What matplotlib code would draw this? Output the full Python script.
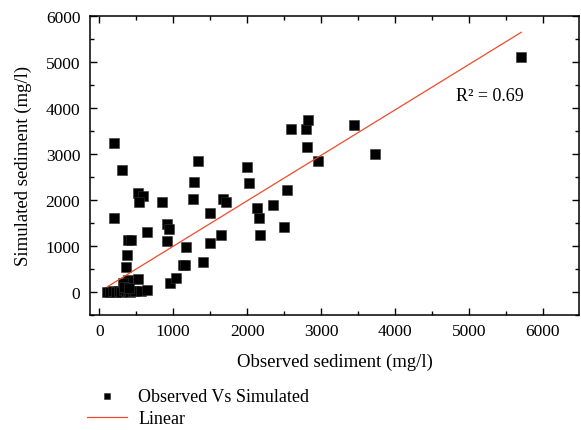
import matplotlib.pyplot as plt
from matplotlib.ticker import MultipleLocator

# Datos (mg/l)
observed = [200, 308, 203, 519, 586, 536, 843, 640, 392, 428, 370, 356, 527, 392, 324,
            110, 150, 190, 230, 265, 300, 330, 360, 390, 420, 450, 480, 560, 650, 340, 400,
            915, 946, 919, 955, 1032, 1127, 1158, 1167, 1270, 1284, 1329, 1397, 1491, 1491,
            1645, 1672, 1712, 1992, 2019, 2136, 2158, 2172, 2351, 2505, 2541, 2595, 2793,
            2820, 2816, 2965, 3451, 3726, 5708]
simulated = [3245, 2655, 1604, 2148, 2090, 1945, 1960, 1300, 1125, 1132, 800, 545, 283, 255, 183,
             0, 0, 10, 0, 20, 0, 30, 10, 40, 0, 20, 10, 20, 30, 100, 80,
             1473, 1357, 1103, 196, 298, 588, 581, 973, 2017, 2394, 2838, 646, 1706, 1060,
             1227, 2011, 1945, 2707, 2372, 1828, 1597, 1227, 1893, 1415, 2213, 3534, 3534,
             3743, 3149, 2851, 3634, 2997, 5114]

# Recta de ajuste
pendiente = 0.989
ordenada = 0.5
r2 = 0.69

plt.rcParams['font.family'] = ['Liberation Serif', 'DejaVu Serif']

fig = plt.figure(figsize=(5.81, 4.31), dpi=100)
ax = fig.add_axes([0.155, 0.2675, 0.8416, 0.693])

ax.scatter(observed, simulated, marker='s', s=48, color='black', edgecolors='#333333',
           linewidths=0.4, zorder=2, label='Observed Vs Simulated')

x_lin = [min(observed), max(observed)]
y_lin = [pendiente * x + ordenada for x in x_lin]
ax.plot(x_lin, y_lin, color='#ee4b2b', lw=0.9, zorder=3, label='Linear')

ax.text(4830, 4265, f'R² = {r2:.2f}', fontsize=13, va='center', ha='left')

ax.set_xlim(-125, 6490)
ax.set_ylim(-500, 6000)
ax.xaxis.set_major_locator(MultipleLocator(1000))
ax.xaxis.set_minor_locator(MultipleLocator(500))
ax.yaxis.set_major_locator(MultipleLocator(1000))
ax.yaxis.set_minor_locator(MultipleLocator(500))
ax.tick_params(which='both', direction='in', top=True, right=True, labeltop=False,
               labelright=False, labelsize=12.5, width=1)
ax.tick_params(which='major', length=5)
ax.tick_params(which='minor', length=3)
ax.tick_params(axis='y', pad=7)
ax.tick_params(axis='x', pad=6)
for sp in ax.spines.values():
    sp.set_linewidth(1.1)

ax.set_xlabel('Observed sediment (mg/l)', fontsize=13.5, labelpad=10)
ax.set_ylabel('Simulated sediment (mg/l)', fontsize=13.5, labelpad=10)

ax.legend(loc='upper left', bbox_to_anchor=(-0.02, -0.222), frameon=False, fontsize=13,
          handlelength=2.2, markerscale=0.7, labelspacing=0.28, borderaxespad=0,
          handletextpad=0.6)

fig.savefig('out.png', dpi=100)
